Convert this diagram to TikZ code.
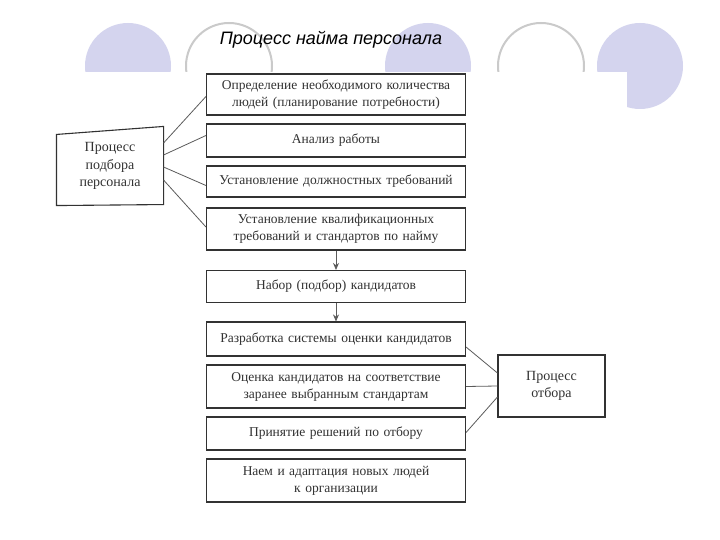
\documentclass[tikz,border=0pt]{standalone}
\usepackage{fontspec}
\setmainfont{Liberation Serif}
\newfontfamily\titlefont{Liberation Sans}
\usetikzlibrary{arrows.meta}
\definecolor{lav}{RGB}{212,212,238}
\definecolor{ring}{RGB}{202,202,202}
\definecolor{ink}{RGB}{50,50,50}
\tikzset{
  box/.style={draw=ink, line width=1.1pt, minimum width=259pt, text width=256pt,
    align=center, font=\fontsize{13.5}{17}\selectfont, text=ink, inner sep=0pt},
  sidebox/.style={box, minimum width=106pt, text width=104pt, font=\fontsize{14}{17.5}\selectfont},
  conn/.style={draw=ink!80, line width=0.8pt},
  flow/.style={conn, -{Stealth[length=7pt,width=6pt]}},
  disc/.style={fill=lav},
  ringc/.style={draw=ring, line width=2pt, fill=white}
}
\begin{document}
\begin{tikzpicture}[x=1pt,y=-1pt]
\useasboundingbox (0,0) rectangle (720,540);
\fill[white] (0,0) rectangle (720,540);
% decorative circles
\path[disc] (128,66) circle (43pt);
\path[ringc] (229,66) circle (43pt);
\path[disc] (428,66) circle (43pt);
\path[ringc] (541,66) circle (43pt);
\path[disc] (640,66) circle (43pt);
\fill[white] (40,72) rectangle (627,515);
% title
\node (title) at (331,40) {\titlefont\itshape\fontsize{18}{20}\selectfont Процесс найма персонала};
% main column
\node[box, minimum height=41pt] (b1) at (336,94.5) {Определение необходимого количества\\людей (планирование потребности)};
\node[box, minimum height=33pt] (b2) at (336,140.5) {Анализ работы};
\node[box, minimum height=31pt] (b3) at (336,181.5) {Установление должностных требований};
\node[box, minimum height=42pt] (b4) at (336,229) {Установление квалификационных\\требований и стандартов по найму};
\node[box, minimum height=32pt] (b5) at (336,286.5) {Набор (подбор) кандидатов};
\node[box, minimum height=34pt] (b6) at (336,339) {Разработка системы оценки кандидатов};
\node[box, minimum height=43pt] (b7) at (336,386.5) {Оценка кандидатов на соответствие\\заранее выбранным стандартам};
\node[box, minimum height=33pt] (b8) at (336,433.5) {Принятие решений по отбору};
\node[box, minimum height=43pt] (b9) at (336,480.5) {Наем и адаптация новых людей\\к организации};
% side boxes
\node[sidebox, draw=none, minimum height=76pt] (lb) at (110,166) {Процесс\\подбора\\персонала};
\draw[ink, line width=1.1pt] ([yshift=-7pt]lb.north west) -- ([yshift=1pt]lb.north east)
  -- (lb.south east) -- ([yshift=-1pt]lb.south west) -- cycle;
\node[sidebox, minimum width=107pt, minimum height=62pt] (ro) at (551.5,386) {Процесс\\отбора};
% connectors left
\draw[conn] ([yshift=23pt]lb.east) -- ([yshift=-2pt]b1.west);
\draw[conn] ([yshift=11pt]lb.east) -- ([yshift=5pt]b2.west);
\draw[conn] ([yshift=-1pt]lb.east) -- ([yshift=-4pt]b3.west);
\draw[conn] ([yshift=-14pt]lb.east) -- ([yshift=2pt]b4.west);
% connectors right
\draw[conn] ([yshift=-8pt]b6.east) -- ([yshift=13pt]ro.west);
\draw[conn] (b7.east) -- (ro.west);
\draw[conn] ([yshift=1pt]b8.east) -- ([yshift=-11pt]ro.west);
% flow arrows
\draw[flow] (b4) -- (b5);
\draw[flow] (b5) -- (b6);
\end{tikzpicture}
\end{document}
